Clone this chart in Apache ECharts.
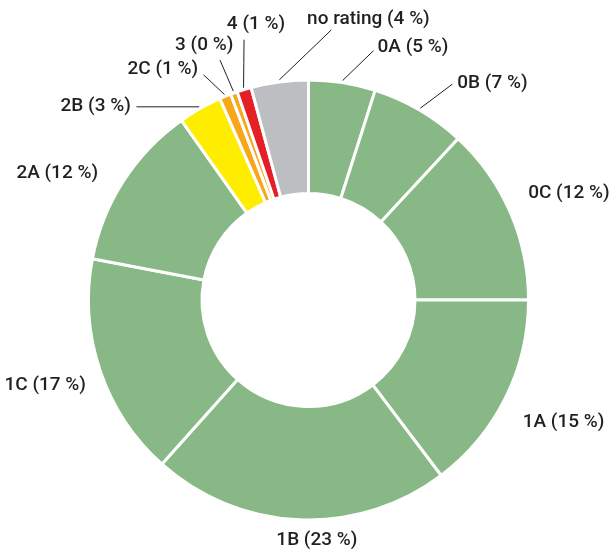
<!DOCTYPE html>
<html><head><meta charset="utf-8">
<script src="https://cdn.jsdelivr.net/npm/echarts@6/dist/echarts.min.js"></script>
<style>html,body{margin:0;background:#fff}#c{width:611px;height:556px}</style>
</head><body><div id="c"></div>
<script>
// ---- data ----
const categories = ['0A', '0B', '0C', '1A', '1B', '1C', '2A', '2B', '2C', '3', '4', 'no rating'];
const values = [4.9, 7.0, 13.1, 14.7, 21.9, 16.4, 12.2, 3.2, 0.85, 0.5, 1.05, 4.2];
const shareLabels = [5, 7, 12, 15, 23, 17, 12, 3, 1, 0, 1, 4];

// ---- style ----
const GREEN = '#88b886', YELLOW = '#ffed00', ORANGE = '#f9a61a', RED = '#e61e26', GREY = '#bdbec1';
const sliceColors = [GREEN, GREEN, GREEN, GREEN, GREEN, GREEN, GREEN, YELLOW, ORANGE, ORANGE, RED, GREY];
const CX = 308.5, CY = 300, R_OUT = 220, R_IN = 106.5, BORDER = 3;
const R_EDGE = R_OUT - BORDER / 2;
// per-label placement: line = leader vector, off = label anchor offset, align
const labelPlace = [
  { line: [31, -30], off: [4, -3.7], align: 'left' },      // 0A
  { line: [32, -24], off: [5, -1], align: 'left' },        // 0B
  { off: [19.4, -19.2], align: 'left' },                   // 0C
  { off: [18.6, 24.5], align: 'left' },                    // 1A
  { off: [17.3, 21.7], align: 'center' },                  // 1B
  { off: [-15.6, 15], align: 'right' },                    // 1C
  { off: [-26.7, -8.6], align: 'right' },                  // 2A
  { line: [-62.6, 0], off: [-5.7, -1], align: 'right' },   // 2B
  { line: [-21, -19.7], off: [-5.4, -6], align: 'right' }, // 2C
  { line: [-13.3, -31], off: [13.3, -15], align: 'right' },// 3
  { line: [0.5, -48], off: [-17.2, -15.8], align: 'left' },// 4
  { line: [52, -50], off: [-24.2, -11], align: 'left' }    // no rating
];

const total = values.reduce((a, b) => a + b, 0);
const midAngles = [];
let acc = 0;
values.forEach(v => { midAngles.push((acc + v / 2) / total * Math.PI * 2); acc += v; });

const chart = echarts.init(document.getElementById('c'), null, { renderer: 'canvas' });
chart.setOption({
  backgroundColor: '#fff',
  animation: false,
  series: [{
    type: 'pie',
    center: [CX, CY],
    radius: [R_IN, R_OUT],
    startAngle: 90,
    clockwise: true,
    avoidLabelOverlap: false,
    itemStyle: { borderColor: '#fff', borderWidth: BORDER },
    label: {
      show: true,
      position: 'outside',
      color: '#231f20',
      fontFamily: 'Roboto',
      fontWeight: 500,
      fontSize: 19,
      formatter: p => p.name + ' (' + shareLabels[p.dataIndex] + ' %)'
    },
    labelLine: { show: true, length: 10, length2: 5, lineStyle: { color: '#231f20', width: 1 } },
    emphasis: { disabled: true },
    data: categories.map((c, i) => ({
      name: c,
      value: values[i],
      itemStyle: { color: sliceColors[i] },
      labelLine: { show: !!labelPlace[i].line }
    })),
    labelLayout: function (params) {
      const i = params.dataIndex;
      const spec = labelPlace[i];
      const a = midAngles[i];
      const ux = Math.sin(a), uy = -Math.cos(a);
      if (spec.line) {
        const sx = CX + (R_EDGE + 3.5) * ux, sy = CY + (R_EDGE + 3.5) * uy;
        const ex = sx + spec.line[0], ey = sy + spec.line[1];
        return {
          x: ex + spec.off[0], y: ey + spec.off[1],
          align: spec.align, verticalAlign: 'middle',
          labelLinePoints: [[sx, sy], [(sx + ex) / 2, (sy + ey) / 2], [ex, ey]]
        };
      }
      const ax = CX + R_EDGE * ux, ay = CY + R_EDGE * uy;
      return { x: ax + spec.off[0], y: ay + spec.off[1], align: spec.align, verticalAlign: 'middle' };
    }
  }]
});
</script>
</body></html>
